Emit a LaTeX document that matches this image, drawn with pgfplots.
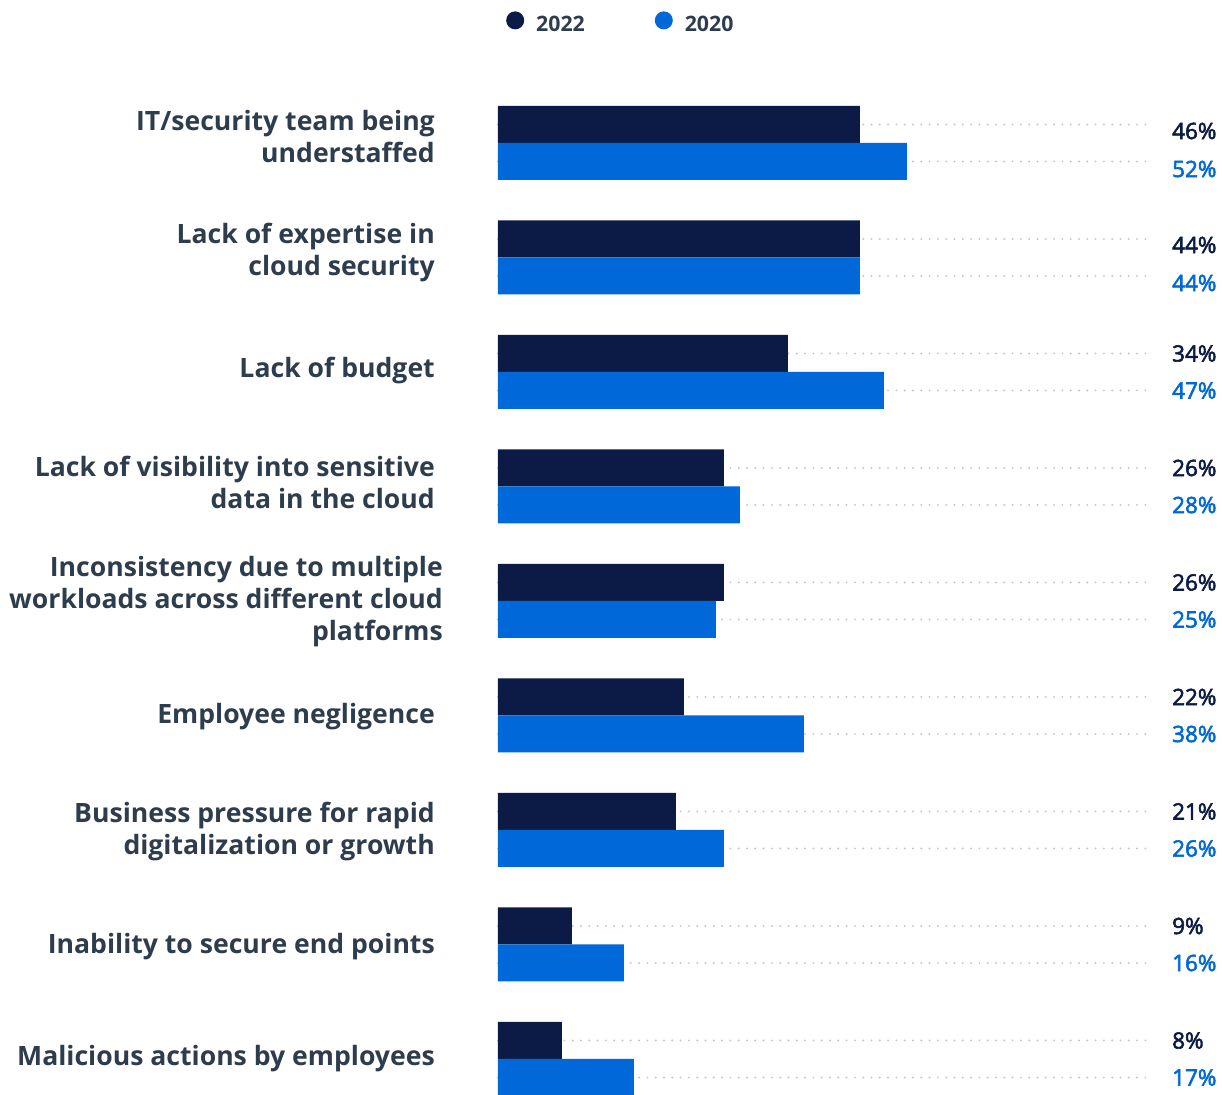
\documentclass[border=0pt]{standalone}
\usepackage{fontspec}
\setmainfont{Open Sans}
\newfontfamily\valfont{Open Sans}[FakeBold=2.5]
\usepackage{pgfplots}
\pgfplotsset{compat=1.18}
\definecolor{navy}{HTML}{0C1B45}
\definecolor{sblue}{HTML}{0068D9}
\definecolor{txt}{HTML}{2E3D4D}
\definecolor{dotc}{HTML}{C8C8C8}
\begin{document}
\begin{tikzpicture}
\begin{axis}[
  x=8pt, y=114.5pt,
  xmin=0, xmax=81.5,
  ymin=-0.3144, ymax=9.2489,
  clip=false,
  axis line style={draw=none},
  xtick=\empty,
  ytick={0,0.9825,1.9825,2.9913,3.9913,5.0349,6.0087,7.0437,8.0524},
  ytick style={draw=none},
  yticklabels={
    {Malicious actions by employees},
    {Inability to secure end points},
    {Business pressure for rapid\\digitalization or growth},
    {Employee negligence},
    {\begin{tabular}{@{}r@{\hspace{-8pt}}}Inconsistency due to multiple\\workloads across different cloud\\platforms\end{tabular}},
    {Lack of visibility into sensitive\\data in the cloud},
    {Lack of budget},
    {Lack of expertise in\\cloud security},
    {IT/security team being\\understaffed}},
  yticklabel style={align=right, anchor=east, inner sep=0pt, xshift=-63pt,
    font=\bfseries\fontsize{26.6}{32}\selectfont, text=txt},
  extra y ticks={-0.1616,0.1616,0.8384,1.1616,1.8384,2.1616,2.8384,3.1616,3.8384,4.1616,4.8384,5.1616,5.8384,6.1616,6.8384,7.1616,7.8384,8.1616},
  extra y tick labels={},
  extra y tick style={grid=major, major grid style={dotc, line width=2.2pt, dash pattern=on 0pt off 8.3pt, line cap=round}, ytick style={draw=none}},
  legend columns=2,
  legend style={at={(axis description cs:0.01227,0.9799)}, anchor=west, draw=none, fill=none, inner sep=0pt,
    font=\bfseries\fontsize{21.3}{25}\selectfont, text=txt,
    nodes={inner sep=0pt},
    /tikz/every odd column/.append style={column sep=12pt},
    /tikz/every even column/.append style={column sep=70pt}},
]
\addplot[xbar, bar width=37pt, bar shift=18.5pt, fill=navy, draw=none,
  legend image code/.code={\fill[navy] (0pt,0.7ex) circle (9pt);}]
  coordinates {(45.25,8) (45.25,7) (36.25,6) (28.25,5) (28.25,4) (23.25,3) (22.25,2) (9.25,1) (8,0)};
\addlegendentry{2022}
\addplot[xbar, bar width=37pt, bar shift=-18.5pt, fill=sblue, draw=none,
  legend image code/.code={\fill[sblue] (0pt,0.7ex) circle (9pt);}]
  coordinates {(51.125,8) (45.25,7) (48.25,6) (30.25,5) (27.25,4) (38.25,3) (28.25,2) (15.75,1) (17,0)};
\addlegendentry{2020}
\addplot[only marks, mark=none, forget plot, point meta=explicit,
  nodes near coords={\pgfmathprintnumber[assume math mode=true]{\pgfplotspointmeta}\%},
  nodes near coords style={anchor=west, text=navy, inner sep=0pt,
    font=\valfont\fontsize{22.5}{26}\selectfont}]
  table[meta=v] {
x y v
84.25 8.1048 46
84.25 7.1092 44
84.25 6.1616 34
84.25 5.1616 26
84.25 4.1616 26
84.25 3.1616 22
84.25 2.1616 21
84.25 1.1616 9
84.25 0.1616 8
};
\addplot[only marks, mark=none, forget plot, point meta=explicit,
  nodes near coords={\pgfmathprintnumber[assume math mode=true]{\pgfplotspointmeta}\%},
  nodes near coords style={anchor=west, text=sblue, inner sep=0pt,
    font=\valfont\fontsize{22.5}{26}\selectfont}]
  table[meta=v] {
x y v
84.25 7.7729 52
84.25 6.7773 44
84.25 5.8384 47
84.25 4.8384 28
84.25 3.8384 25
84.25 2.8384 38
84.25 1.8384 26
84.25 0.8384 16
84.25 -0.1616 17
};
\end{axis}
\pgfresetboundingbox
\path[use as bounding box] ([xshift=-498pt]current axis.south west) rectangle ([xshift=72pt]current axis.north east);
\end{tikzpicture}
\end{document}
